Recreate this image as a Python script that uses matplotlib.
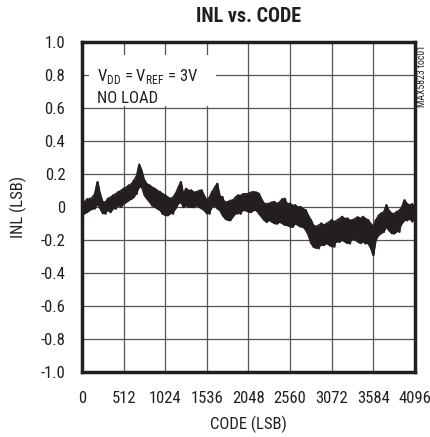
import matplotlib.pyplot as plt
from matplotlib.patches import Rectangle

# INL readings, one every 32 codes from 0 to 4096
code_step = 32
inl = [
    -0.04, 0.03, -0.03, 0.05, -0.01, 0.07, 0.15, 0.01, 0.03, -0.04,
    0.05, -0.03, 0.07, -0.01, 0.09, 0.01, 0.11, 0.03, 0.13, 0.05,
    0.16, 0.08, 0.25, 0.14, 0.16, 0.06, 0.13, 0.01, 0.11, 0.00,
    0.09, -0.04, 0.07, -0.05, 0.05, -0.04, 0.08, 0.03, 0.15, 0.00,
    0.11, 0.02, 0.10, 0.00, 0.09, 0.01, 0.10, -0.01, 0.04, -0.04,
    0.09, 0.01, 0.14, -0.01, 0.06, -0.06, 0.03, -0.08, 0.04, -0.03,
    0.07, -0.04, 0.07, -0.02, 0.08, -0.03, 0.09, -0.01, 0.08, -0.04,
    0.02, -0.09, 0.02, -0.08, 0.03, -0.10, 0.02, -0.09, 0.05, -0.11,
    0.02, -0.12, 0.01, -0.10, 0.00, -0.12, -0.02, -0.14, -0.08, -0.24,
    -0.12, -0.25, -0.10, -0.23, -0.11, -0.22, -0.08, -0.24, -0.10, -0.21,
    -0.06, -0.20, -0.07, -0.22, -0.08, -0.19, -0.07, -0.21, -0.06, -0.22,
    -0.08, -0.22, -0.29, -0.08, -0.17, -0.04, -0.15, 0.01, -0.14, -0.04,
    -0.16, -0.03, -0.15, -0.01, 0.04, -0.08, 0.01, -0.07, -0.02,
]
# spread of the noisy trace around those readings, same code spacing
inl_hi = [
    0.02, 0.03, 0.05, 0.04, 0.06, 0.08, 0.15, 0.08, 0.03, 0.03,
    0.05, 0.06, 0.07, 0.08, 0.09, 0.10, 0.11, 0.12, 0.13, 0.14,
    0.16, 0.19, 0.26, 0.22, 0.16, 0.14, 0.13, 0.12, 0.11, 0.10,
    0.09, 0.08, 0.07, 0.06, 0.05, 0.06, 0.08, 0.12, 0.15, 0.08,
    0.11, 0.10, 0.10, 0.09, 0.09, 0.10, 0.10, 0.07, 0.04, 0.06,
    0.09, 0.12, 0.14, 0.07, 0.05, 0.03, 0.03, 0.04, 0.04, 0.06,
    0.07, 0.07, 0.08, 0.08, 0.08, 0.09, 0.09, 0.09, 0.08, 0.05,
    0.02, 0.02, 0.02, 0.03, 0.03, 0.02, 0.03, 0.05, 0.04, 0.02,
    0.02, 0.01, 0.01, 0.00, 0.00, -0.01, -0.02, -0.05, -0.08, -0.11,
    -0.12, -0.11, -0.10, -0.11, -0.10, -0.09, -0.08, -0.09, -0.08, -0.07,
    -0.06, -0.07, -0.07, -0.08, -0.08, -0.07, -0.06, -0.07, -0.06, -0.07,
    -0.08, -0.10, -0.12, -0.08, -0.05, -0.04, -0.03, 0.01, -0.02, -0.04,
    -0.04, -0.03, -0.02, 0.00, 0.04, 0.02, 0.01, 0.02, -0.02,
]
inl_lo = [
    -0.05, -0.04, -0.03, -0.02, -0.01, -0.01, 0.02, -0.01, -0.04, -0.03,
    -0.02, -0.03, -0.01, 0.00, 0.01, 0.00, 0.02, 0.03, 0.04, 0.05,
    0.06, 0.09, 0.12, 0.12, 0.07, 0.05, 0.03, 0.01, 0.00, -0.01,
    -0.02, -0.04, -0.05, -0.05, -0.04, -0.03, -0.01, 0.02, 0.03, 0.00,
    0.01, 0.00, 0.00, 0.00, 0.01, 0.00, -0.01, -0.02, -0.04, -0.03,
    0.00, 0.01, -0.01, -0.02, -0.05, -0.07, -0.08, -0.08, -0.06, -0.04,
    -0.04, -0.03, -0.02, -0.02, -0.03, -0.03, -0.02, -0.02, -0.04, -0.06,
    -0.08, -0.09, -0.08, -0.09, -0.10, -0.10, -0.09, -0.10, -0.11, -0.11,
    -0.12, -0.12, -0.10, -0.11, -0.12, -0.12, -0.14, -0.17, -0.22, -0.24,
    -0.25, -0.24, -0.23, -0.23, -0.22, -0.23, -0.24, -0.22, -0.21, -0.21,
    -0.20, -0.21, -0.22, -0.21, -0.19, -0.20, -0.21, -0.22, -0.21, -0.22,
    -0.22, -0.25, -0.29, -0.20, -0.17, -0.16, -0.15, -0.12, -0.14, -0.16,
    -0.16, -0.15, -0.13, -0.10, -0.08, -0.08, -0.07, -0.09, -0.05,
]
codes = [i * code_step for i in range(len(inl))]

x_ticks = [0, 512, 1024, 1536, 2048, 2560, 3072, 3584, 4096]
y_ticks = [-1.0, -0.8, -0.6, -0.4, -0.2, 0, 0.2, 0.4, 0.6, 0.8, 1.0]
y_labels = ['-1.0', '-0.8', '-0.6', '-0.4', '-0.2', '0', '0.2', '0.4', '0.6', '0.8', '1.0']

ink = '#231f20'
plt.rcParams['font.family'] = ['Roboto Condensed', 'Archivo Narrow', 'PT Sans Narrow', 'DejaVu Sans']

fig = plt.figure(figsize=(4.3, 4.37), dpi=100)
ax = fig.add_axes([0.1907, 0.1487, 0.7744, 0.7551])

ax.fill_between(codes, inl_lo, inl_hi, color=ink, linewidth=0, zorder=3)
ax.plot(codes, inl_hi, color=ink, linewidth=1.2, zorder=3)
ax.plot(codes, inl_lo, color=ink, linewidth=1.2, zorder=3)
ax.plot(codes, inl, color=ink, linewidth=1.8, zorder=3)

ax.set_xlim(0, 4096)
ax.set_ylim(-1.0, 1.0)
ax.set_xticks(x_ticks)
ax.set_xticklabels([str(t) for t in x_ticks])
ax.set_yticks(y_ticks)
ax.set_yticklabels(y_labels)
ax.tick_params(length=0, labelsize=12, colors=ink)
ax.tick_params(axis='x', pad=14)
ax.tick_params(axis='y', pad=12)
ax.grid(True, color='#555555', linewidth=0.9)
ax.set_axisbelow(True)
for s in ax.spines.values():
    s.set_linewidth(2.5)
    s.set_color(ink)

ax.set_xlabel('CODE (LSB)', fontsize=12, color=ink, labelpad=7)
ax.set_ylabel('INL (LSB)', fontsize=12, color=ink, labelpad=10)
fig.text(0.577, 0.962, 'INL vs. CODE', ha='center', va='center',
         fontsize=14.5, fontweight='heavy', color=ink)

# condition box covering the grid
ax.add_patch(Rectangle((80, 0.61), 1570, 0.31, facecolor='white',
                       edgecolor='none', zorder=2))
ax.text(180, 0.79, r'V$_{\mathregular{DD}}$ = V$_{\mathregular{REF}}$ = 3V',
        fontsize=12, color=ink, va='center', zorder=4)
ax.text(180, 0.66, 'NO LOAD', fontsize=12, color=ink, va='center', zorder=4)

fig.text(0.982, 0.826, 'MAX5823 toc01', rotation=90, ha='center', va='center',
         fontsize=7, color=ink)

fig.savefig('out.png', dpi=100)
